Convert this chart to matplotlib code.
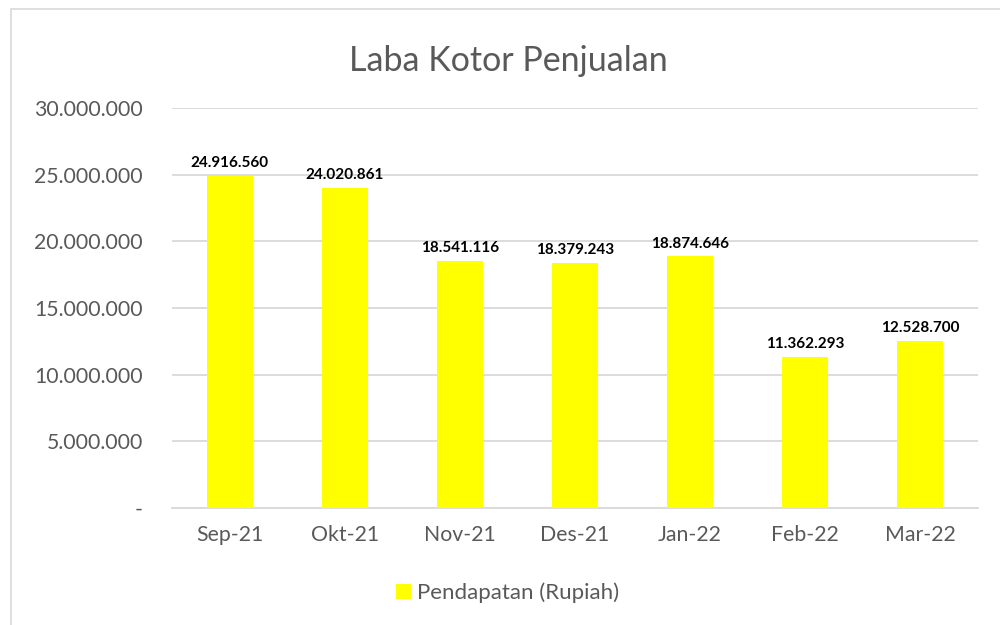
import matplotlib.pyplot as plt
from matplotlib.patches import Rectangle
from matplotlib.ticker import FuncFormatter

plt.rcParams['font.family'] = ['Lato', 'DejaVu Sans']

months = ["Sep-21", "Okt-21", "Nov-21", "Des-21", "Jan-22", "Feb-22", "Mar-22"]
pendapatan = [24916560, 24020861, 18541116, 18379243, 18874646, 11362293, 12528700]
y_ticks = [0, 5000000, 10000000, 15000000, 20000000, 25000000, 30000000]

TEXT = "#595959"
GRID = "#d9d9d9"
BAR = "#ffff00"


def fmt_id(v):
    return f"{int(round(v)):,}".replace(",", ".")


fig = plt.figure(figsize=(10, 6.25), dpi=100)
ax = fig.add_axes([0.172, 0.1872, 0.806, 0.64])

# chart border like the spreadsheet frame
fig.patches.append(Rectangle((0.011, -0.05), 0.99, 1.036, transform=fig.transFigure,
                             fill=False, edgecolor=GRID, linewidth=1.2))

x = range(len(months))
bars = ax.bar(x, pendapatan, width=0.4, color=BAR, zorder=3, label="Pendapatan (Rupiah)")

for b, v in zip(bars, pendapatan):
    ax.annotate(fmt_id(v), (b.get_x() + b.get_width() / 2, v), xytext=(0, 4),
                textcoords="offset points", ha="center", va="bottom",
                fontsize=11, fontweight="bold", color="black")

ax.set_xlim(-0.5, len(months) - 0.5)
ax.set_ylim(0, 30000000)
ax.set_yticks(y_ticks)
ax.yaxis.set_major_formatter(FuncFormatter(lambda v, p: "-" if v == 0 else fmt_id(v)))
ax.set_xticks(list(x))
ax.set_xticklabels(months)
ax.grid(axis="y", color=GRID, linewidth=1.3, zorder=0)
ax.tick_params(length=0, labelsize=15.3, labelcolor=TEXT)
ax.tick_params(axis="x", pad=12)
ax.tick_params(axis="y", pad=21)
for s in ["top", "right", "left"]:
    ax.spines[s].set_visible(False)
ax.spines["bottom"].set_color(GRID)
ax.spines["bottom"].set_linewidth(1.3)

fig.text(0.508, 0.902, "Laba Kotor Penjualan", ha="center", va="center",
         fontsize=24.5, color=TEXT)

fig.legend(loc="center", bbox_to_anchor=(0.508, 0.051), frameon=False, fontsize=16,
           labelcolor=TEXT, handlelength=0.65, handleheight=0.65, handletextpad=0.3)

fig.savefig("out.png", dpi=100, facecolor="white")
